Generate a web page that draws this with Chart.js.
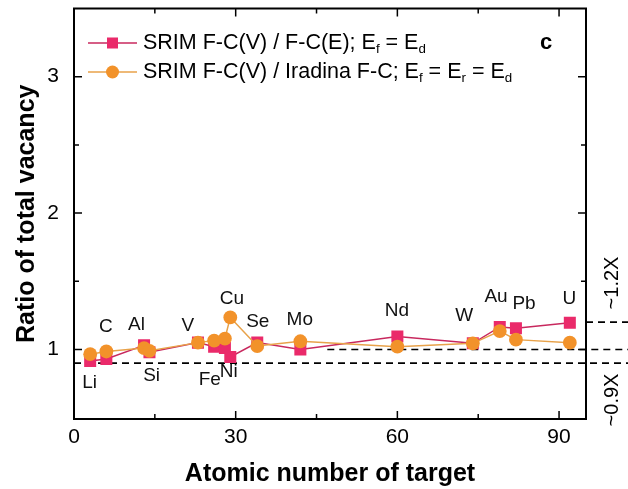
<!DOCTYPE html>
<html>
<head>
<meta charset="utf-8">
<script src="https://cdn.jsdelivr.net/npm/chart.js@4"></script>
<style>
  body { margin: 0; background: #fff; }
  canvas { display: block; }
</style>
</head>
<body>
<canvas id="chart" width="628" height="489"></canvas>
<script>
// targets and their atomic numbers
const elements = ['Li', 'C', 'Al', 'Si', 'V', 'Fe', 'Ni', 'Cu', 'Se', 'Mo', 'Nd', 'W', 'Au', 'Pb', 'U'];
const atomicNumbers = [3, 6, 13, 14, 23, 26, 28, 29, 34, 42, 60, 74, 79, 82, 92];

// ratio of total vacancy
const srimVsFcE = [0.915, 0.93, 1.03, 0.98, 1.05, 1.02, 1.01, 0.945, 1.05, 1.0, 1.095, 1.045, 1.165, 1.155, 1.195];
const srimVsIradina = [0.965, 0.985, 1.01, 0.99, 1.05, 1.065, 1.08, 1.235, 1.025, 1.06, 1.02, 1.045, 1.135, 1.072, 1.05];

// where each element name sits (data units)
const labelX = [2.9, 5.9, 11.6, 14.4, 21.1, 25.2, 28.7, 29.3, 34.1, 41.9, 59.9, 72.4, 78.3, 83.5, 91.9];
const labelY = [0.755, 1.165, 1.18, 0.805, 1.17, 0.775, 0.835, 1.375, 1.2, 1.215, 1.28, 1.25, 1.385, 1.335, 1.375];

const xTicks = [0, 30, 60, 90];
const xMinor = [15, 45, 75];
const yTicks = [1, 2, 3];
const yMinor = [1.5, 2.5];

const PINK = '#ea2a6a';
const PINK_LINE = '#c8285e';
const ORANGE = '#f2922a';
const ORANGE_LINE = '#e8a24a';
const FONT = '"Liberation Sans", Arial, sans-serif';

function toPoints(ys) {
    return atomicNumbers.map((z, i) => ({ x: z, y: ys[i] }));
}

function drawSubText(ctx, parts, x, y, size) {
    // parts: [text, isSub]
    parts.forEach(p => {
        if (p[1]) {
            ctx.font = (size * 0.62) + 'px ' + FONT;
            ctx.fillText(p[0], x, y + size * 0.28);
        } else {
            ctx.font = size + 'px ' + FONT;
            ctx.fillText(p[0], x, y);
        }
        x += ctx.measureText(p[0]).width;
    });
}

const decorPlugin = {
    id: 'decor',
    beforeDatasetsDraw(chart) {
        const ctx = chart.ctx;
        const xs = chart.scales.x, ys = chart.scales.y;
        const area = chart.chartArea;
        const W = chart.width;
        ctx.save();
        ctx.strokeStyle = '#000';
        ctx.lineWidth = 1.6;
        ctx.setLineDash([7, 5]);
        const lines = [
            [area.left, 0.9],
            [xs.getPixelForValue(47), 1.0],
            [area.right, 1.2]
        ];
        lines.forEach(l => {
            const py = ys.getPixelForValue(l[1]);
            ctx.beginPath();
            ctx.moveTo(l[0], py);
            ctx.lineTo(W, py);
            ctx.stroke();
        });
        ctx.restore();
    },
    afterDatasetsDraw(chart) {
        const ctx = chart.ctx;
        const xs = chart.scales.x, ys = chart.scales.y;
        const a = chart.chartArea;
        ctx.save();
        // frame
        ctx.strokeStyle = '#000';
        ctx.lineWidth = 2;
        ctx.strokeRect(a.left, a.top, a.right - a.left, a.bottom - a.top);
        // inward ticks
        ctx.lineWidth = 1.5;
        ctx.beginPath();
        xTicks.concat(xMinor).forEach(v => {
            const len = xTicks.includes(v) ? 8 : 5;
            const px = xs.getPixelForValue(v);
            ctx.moveTo(px, a.bottom); ctx.lineTo(px, a.bottom - len);
            ctx.moveTo(px, a.top); ctx.lineTo(px, a.top + len);
        });
        yTicks.concat(yMinor).forEach(v => {
            const len = yTicks.includes(v) ? 8 : 5;
            const py = ys.getPixelForValue(v);
            ctx.moveTo(a.left, py); ctx.lineTo(a.left + len, py);
            ctx.moveTo(a.right, py); ctx.lineTo(a.right - len, py);
        });
        ctx.stroke();

        // element names
        ctx.fillStyle = '#111';
        ctx.font = '19px ' + FONT;
        ctx.textAlign = 'center';
        ctx.textBaseline = 'middle';
        elements.forEach((el, i) => {
            ctx.fillText(el, xs.getPixelForValue(labelX[i]), ys.getPixelForValue(labelY[i]));
        });

        // legend
        const rows = [
            { y: 43, color: PINK, line: PINK_LINE, style: 'rect',
              parts: [['SRIM F-C(V) / F-C(E); E', 0], ['f', 1], [' = E', 0], ['d', 1]] },
            { y: 72, color: ORANGE, line: ORANGE_LINE, style: 'circle',
              parts: [['SRIM F-C(V) / Iradina F-C; E', 0], ['f', 1], [' = E', 0], ['r', 1], [' = E', 0], ['d', 1]] }
        ];
        rows.forEach(r => {
            ctx.strokeStyle = r.line;
            ctx.lineWidth = 1.5;
            ctx.beginPath();
            ctx.moveTo(88, r.y); ctx.lineTo(137, r.y);
            ctx.stroke();
            ctx.fillStyle = r.color;
            if (r.style === 'rect') {
                ctx.fillRect(107, r.y - 5.5, 11, 11);
            } else {
                ctx.beginPath();
                ctx.arc(112.5, r.y, 6.5, 0, Math.PI * 2);
                ctx.fill();
            }
            ctx.fillStyle = '#000';
            ctx.textAlign = 'left';
            ctx.textBaseline = 'middle';
            drawSubText(ctx, r.parts, 143, r.y, 21.5);
        });

        // panel letter
        ctx.font = 'bold 22px ' + FONT;
        ctx.textAlign = 'center';
        ctx.fillText('c', 546, 43);

        // right-side markers
        ctx.font = '20px ' + FONT;
        [['~1.2X', 283], ['~0.9X', 400]].forEach(t => {
            ctx.save();
            ctx.translate(612, t[1]);
            ctx.rotate(-Math.PI / 2);
            ctx.textAlign = 'center';
            ctx.textBaseline = 'middle';
            ctx.fillText(t[0], 0, 0);
            ctx.restore();
        });
        ctx.restore();
    }
};

const ctx = document.getElementById('chart').getContext('2d');
const chart = new Chart(ctx, {
    type: 'line',
    data: {
        datasets: [{
            label: 'SRIM F-C(V) / F-C(E)',
            data: toPoints(srimVsFcE),
            borderColor: PINK_LINE,
            borderWidth: 1.5,
            backgroundColor: PINK,
            pointBackgroundColor: PINK,
            pointBorderWidth: 0,
            pointStyle: 'rect',
            pointRadius: 8.5,
            order: 2
        }, {
            label: 'SRIM F-C(V) / Iradina F-C',
            data: toPoints(srimVsIradina),
            borderColor: ORANGE_LINE,
            borderWidth: 1.5,
            backgroundColor: ORANGE,
            pointBackgroundColor: ORANGE,
            pointBorderWidth: 0,
            pointStyle: 'circle',
            pointRadius: 6.9,
            order: 1
        }]
    },
    options: {
        responsive: false,
        animation: false,
        devicePixelRatio: 1,
        layout: { padding: { top: 7, right: 42, left: 0, bottom: 0 } },
        plugins: { legend: { display: false }, tooltip: { enabled: false } },
        scales: {
            x: {
                type: 'linear',
                min: 0,
                max: 95,
                afterBuildTicks: s => { s.ticks = xTicks.map(v => ({ value: v })); },
                afterFit: s => { s.height = 70; s.paddingLeft = 0; s.paddingRight = 0; },
                grid: { display: false, drawTicks: false },
                border: { display: false },
                ticks: { color: '#000', padding: 6, font: { size: 21, family: FONT } },
                title: {
                    display: true,
                    text: 'Atomic number of target',
                    color: '#000',
                    font: { size: 25, weight: 'bold', family: FONT },
                    padding: { top: 3, bottom: 0 }
                }
            },
            y: {
                min: 0.49,
                max: 3.5,
                afterBuildTicks: s => { s.ticks = yTicks.map(v => ({ value: v })); },
                afterFit: s => { s.width = 74; s.paddingTop = 0; s.paddingBottom = 0; },
                grid: { display: false, drawTicks: false },
                border: { display: false },
                ticks: { color: '#000', padding: 15, font: { size: 21, family: FONT } },
                title: {
                    display: true,
                    text: 'Ratio of total vacancy',
                    color: '#000',
                    font: { size: 25, weight: 'bold', family: FONT },
                    padding: { top: 12, bottom: 0 }
                }
            }
        }
    },
    plugins: [decorPlugin]
});
</script>
</body>
</html>
